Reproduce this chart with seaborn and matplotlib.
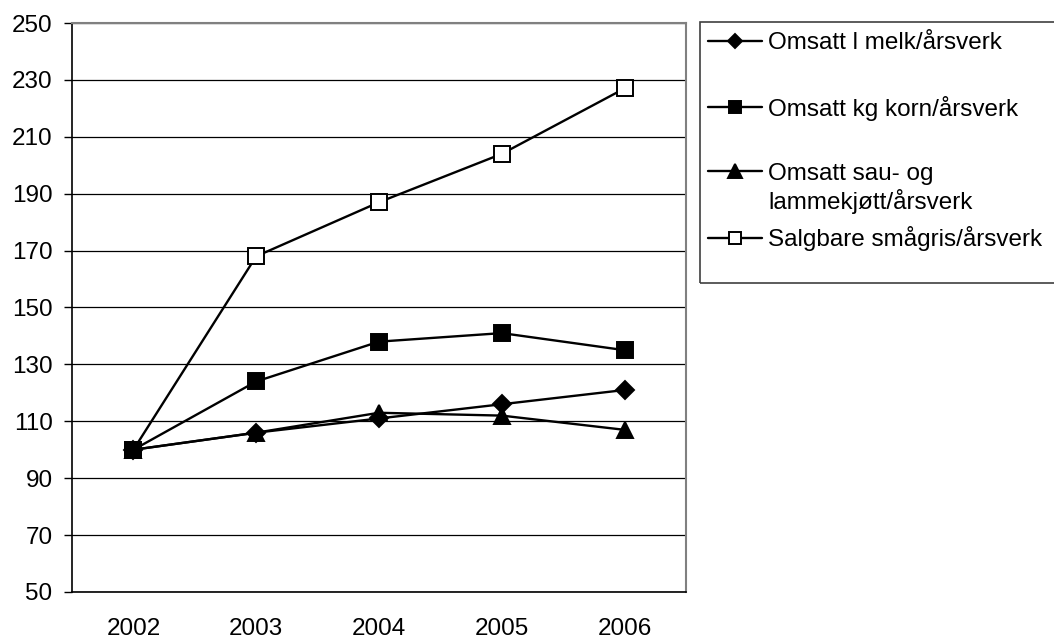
import matplotlib
matplotlib.use("Agg")
import matplotlib.pyplot as plt
from matplotlib.patches import Rectangle
from matplotlib.lines import Line2D
import seaborn as sns
import numpy as np

years = ["2002", "2003", "2004", "2005", "2006"]
melk = [100, 106, 111, 116, 121]
korn = [100, 124, 138, 141, 135]
sau = [100, 106, 113, 112, 107]
smagris = [100, 168, 187, 204, 227]
labels = ["Omsatt l melk/årsverk", "Omsatt kg korn/årsverk",
          "Omsatt sau- og", "Salgbare smågris/årsverk"]
sau_label_line2 = "lammekjøtt/årsverk"

sns.set_theme(style="white")
plt.rcParams["font.family"] = ["Liberation Sans", "DejaVu Sans"]
plt.rcParams["text.color"] = "black"
FS = 17.5
W, H = 1054, 639

fig = plt.figure(figsize=(W / 100, H / 100), dpi=100)
ax = fig.add_axes([72 / W, 47 / H, (686 - 72) / W, (592 - 23) / H])

xpos = np.arange(len(years))
series = [melk, korn, sau, smagris]
markers = ["D", "s", "^", "s"]
msizes = [8.8, 11, 11.5, 11]
faces = ["black", "black", "black", "white"]
zorders = [3, 5, 4, 2.5]
for vals, lab, m, ms, fc, z in zip(series, labels, markers, msizes, faces, zorders):
    sns.lineplot(x=xpos, y=vals, ax=ax, color="black", linewidth=1.7,
                 marker=m, markersize=ms, markerfacecolor=fc,
                 markeredgecolor="black", markeredgewidth=1.4, label=lab,
                 legend=False, zorder=z)

ax.set_xlim(-0.5, 4.5)
ax.set_ylim(50, 250)
ax.set_yticks(np.arange(50, 251, 20))
ax.set_xticks(xpos)
ax.set_xticklabels(years)
ax.set_xticks(np.arange(-0.5, 4.6, 1), minor=True)
ax.tick_params(axis="x", which="major", length=0, pad=19, labelsize=FS, colors="black")
ax.tick_params(axis="x", which="minor", length=6, width=1, direction="out", color="black")
ax.tick_params(axis="y", length=6, width=1, direction="out", pad=8, labelsize=FS,
               colors="black", left=True)
ax.yaxis.grid(True, color="black", linewidth=0.9)
ax.xaxis.grid(False)
ax.set_axisbelow(True)
for s in ["left", "bottom"]:
    ax.spines[s].set_color("black")
    ax.spines[s].set_linewidth(1.2)
for s in ["top", "right"]:
    ax.spines[s].set_color("#808080")
    ax.spines[s].set_linewidth(1.5)
ax.set_xlabel("")
ax.set_ylabel("")

# legend proxies with slightly smaller markers
proxies = [Line2D([], [], color="black", linewidth=1.7, marker=m, markersize=ms * 0.85,
                  markerfacecolor=fc, markeredgecolor="black", markeredgewidth=1.4)
           for m, ms, fc in zip(markers, msizes, faces)]
leg = fig.legend(proxies, labels, loc="upper left", bbox_to_anchor=(708 / W, 1 - 32 / H),
                 frameon=False, fontsize=FS, handlelength=2.22, labelcolor="black",
                 handletextpad=0.25, labelspacing=1.72, borderpad=0,
                 borderaxespad=0)

# legend frame (extends past the right edge like the reference)
fig.patches.append(Rectangle((700 / W, 1 - 283 / H), (1070 - 700) / W, (283 - 22) / H,
                             transform=fig.transFigure, fill=False,
                             edgecolor="#404040", linewidth=1.2))

fig.canvas.draw()
ext = leg.get_texts()[2].get_window_extent()
fig.text(ext.x0 / W, (ext.y0 - 29.5) / H, sau_label_line2, fontsize=FS,
         ha="left", va="bottom", color="black")

fig.savefig("out.png", dpi=100)
